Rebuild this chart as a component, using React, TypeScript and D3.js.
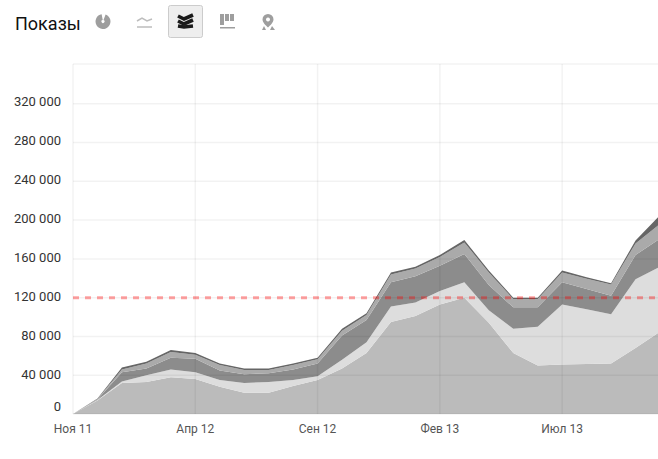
import React, { useEffect, useRef } from "react";
import * as d3 from "d3";

const months = [
  "Ноя 11", "Дек 11", "Янв 12", "Фев 12", "Мар 12", "Апр 12", "Май 12", "Июн 12", "Июл 12", "Авг 12", "Сен 12", "Окт 12",
  "Ноя 12", "Дек 12", "Янв 13", "Фев 13", "Мар 13", "Апр 13", "Май 13", "Июн 13", "Июл 13", "Авг 13", "Сен 13", "Окт 13", "Ноя 13",
];
const xTickLabels = ["Ноя 11", "Апр 12", "Сен 12", "Фев 13", "Июл 13"];
const yTicks = [0, 40000, 80000, 120000, 160000, 200000, 240000, 280000, 320000];
const yMax = 360000;
const threshold = 120000;

const seriesA = [0, 14000, 32000, 33000, 38000, 36000, 28000, 22000, 22000, 29000, 35000, 47000, 63000, 95000, 101000, 113000, 120000, 94000, 63000, 50000, 51000, 51500, 52000, 68000, 85000];
const seriesB = [0, 500, 1500, 7000, 8000, 7000, 7000, 10000, 11000, 6000, 4000, 9000, 11000, 16000, 14000, 14000, 16000, 13000, 25000, 40000, 62000, 56500, 51000, 71000, 67000];
const seriesC = [0, 500, 9500, 7000, 12000, 14000, 10000, 9000, 9000, 11000, 13000, 25000, 23000, 25000, 27000, 26000, 29000, 26000, 22000, 20000, 23000, 21000, 19000, 25000, 29000];
const seriesD = [0, 500, 3000, 5000, 6000, 4000, 5500, 4500, 3500, 4500, 4500, 5000, 5000, 8000, 8000, 9000, 12000, 13000, 8500, 8500, 10000, 10500, 11500, 12000, 15000];
const seriesE = [0, 500, 2000, 2000, 2000, 2000, 1500, 1500, 1500, 1500, 1500, 2000, 2000, 2000, 2000, 2000, 2500, 2000, 1500, 1500, 2000, 1500, 1500, 3000, 9000];

const seriesNames = ["a", "b", "c", "d", "e"];
const seriesValues = [seriesA, seriesB, seriesC, seriesD, seriesE];
const seriesColors = ["#bbbbbb", "#dddddd", "#8c8c8c", "#aaaaaa", "#666666"];

const font = "Roboto, sans-serif";

const App: React.FC = () => {
  const svgRef = useRef<SVGSVGElement>(null);

  useEffect(() => {
    if (!svgRef.current) return;
    const svg = d3.select(svgRef.current);
    svg.selectAll("*").remove();

    const x = d3.scalePoint<string>().domain(months).range([73, 660]);
    const y = d3.scaleLinear().domain([0, yMax]).range([414, 65]);
    // the tick labels drift a little against the grid in the original
    const labelY = d3.scaleLinear().domain([40000, 320000]).range([379, 105.7]);

    // Header
    svg.append("text")
      .attr("x", 15)
      .attr("y", 29.5)
      .style("font-family", font)
      .style("font-size", "18px")
      .style("fill", "#111")
      .text("Показы");

    // Active button
    svg.append("rect")
      .attr("x", 168.5)
      .attr("y", 5.5)
      .attr("width", 34)
      .attr("height", 32)
      .attr("rx", 2)
      .attr("fill", "#eeeeee")
      .attr("stroke", "#cccccc");

    // Pie icon
    const pie = svg.append("g").attr("transform", "translate(103,21.5)").attr("fill", "#9e9e9e");
    pie.append("path").attr("d", d3.arc()({ innerRadius: 1.5, outerRadius: 7.5, startAngle: 0.35, endAngle: 6.1 }) || "");

    // Line icon
    const lineIcon = svg.append("g").attr("fill", "none").attr("stroke", "#bdbdbd").attr("stroke-width", 1.5);
    lineIcon.append("path").attr("d", "M137 21 L142 18 L147 21 L152 19");
    lineIcon.append("path").attr("d", "M137 27 L152 27");

    // Stacked icon
    const stackIcon = svg.append("g").attr("fill", "none").attr("stroke", "#1a1a1a").attr("stroke-width", 3.6);
    stackIcon.append("path").attr("d", "M178 16 L184 19 L193 15");
    stackIcon.append("path").attr("d", "M178 21 L184 24 L193 20");
    stackIcon.append("path").attr("d", "M178 26 L184 27 L193 26");

    // Columns icon
    const colIcon = svg.append("g").attr("fill", "#9e9e9e");
    d3.range(3).forEach((i) => {
      colIcon.append("rect")
        .attr("x", 220 + i * 5)
        .attr("y", 14)
        .attr("width", 4)
        .attr("height", i === 0 ? 11 : 7);
    });
    colIcon.append("rect").attr("x", 220).attr("y", 27).attr("width", 15).attr("height", 1.5);

    // Map pin icon
    const pinIcon = svg.append("g").attr("fill", "#9e9e9e");
    pinIcon.append("path")
      .attr("fill-rule", "evenodd")
      .attr("d", "M268 14 a5.5 5.5 0 0 1 5.5 5.5 c0 3 -3.5 6 -5.5 8 c-2 -2 -5.5 -5 -5.5 -8 a5.5 5.5 0 0 1 5.5 -5.5 Z M268 17.5 a2 2 0 1 0 0.01 0 Z");
    pinIcon.append("path").attr("d", "M262 30 L264 26 L266 30 Z M270 30 L272 26 L275 30 Z");

    // Stacked areas
    const rows = months.map((m, i) => {
      const row: Record<string, number | string> = { month: m };
      seriesNames.forEach((n, k) => (row[n] = seriesValues[k][i]));
      return row;
    });
    const stacked = d3.stack<Record<string, number | string>>().keys(seriesNames)(rows as any);
    const area = d3.area<any>()
      .x((d) => x(d.data.month as string) as number)
      .y0((d) => y(d[0]))
      .y1((d) => y(d[1]));

    svg.append("g")
      .selectAll("path")
      .data(stacked)
      .enter()
      .append("path")
      .attr("d", area as any)
      .attr("fill", (_, i) => seriesColors[i]);

    // Grid on top of the areas, faint
    const grid = svg.append("g").attr("stroke", "#000").attr("stroke-opacity", 0.05).attr("stroke-width", 1.5);
    grid.selectAll("line.h")
      .data([...yTicks, yMax])
      .enter()
      .append("line")
      .attr("class", "h")
      .attr("x1", 73)
      .attr("x2", 658)
      .attr("y1", (d) => (d === yMax ? 64 : y(d)))
      .attr("y2", (d) => (d === yMax ? 64 : y(d)));
    grid.selectAll("line.v")
      .data(xTickLabels)
      .enter()
      .append("line")
      .attr("class", "v")
      .attr("x1", (d) => x(d) as number)
      .attr("x2", (d) => x(d) as number)
      .attr("y1", 64)
      .attr("y2", 414);

    // Threshold
    svg.append("line")
      .attr("x1", 73)
      .attr("x2", 658)
      .attr("y1", y(threshold))
      .attr("y2", y(threshold))
      .attr("stroke", "#ff0000")
      .attr("stroke-opacity", 0.36)
      .attr("stroke-width", 3)
      .attr("stroke-dasharray", "6 6");

    // Y labels
    svg.append("g")
      .selectAll("text")
      .data(yTicks)
      .enter()
      .append("text")
      .attr("x", 61)
      .attr("y", (d) => (d === 0 ? 411 : labelY(d)))
      .attr("text-anchor", "end")
      .style("font-family", font)
      .style("font-size", "13px")
      .style("fill", "#333")
      .text((d) => d3.format(",")(d).replace(/,/g, " "));

    // X labels
    svg.append("g")
      .selectAll("text")
      .data(xTickLabels)
      .enter()
      .append("text")
      .attr("x", (d) => x(d) as number)
      .attr("y", 433)
      .attr("text-anchor", "middle")
      .style("font-family", font)
      .style("font-size", "12px")
      .style("fill", "#555")
      .text((d) => d);
  }, []);

  return (
    <svg
      ref={svgRef}
      width={658}
      height={459}
      style={{ position: "absolute", left: 0, top: 0, background: "#fff" }}
    />
  );
};

export default App;
